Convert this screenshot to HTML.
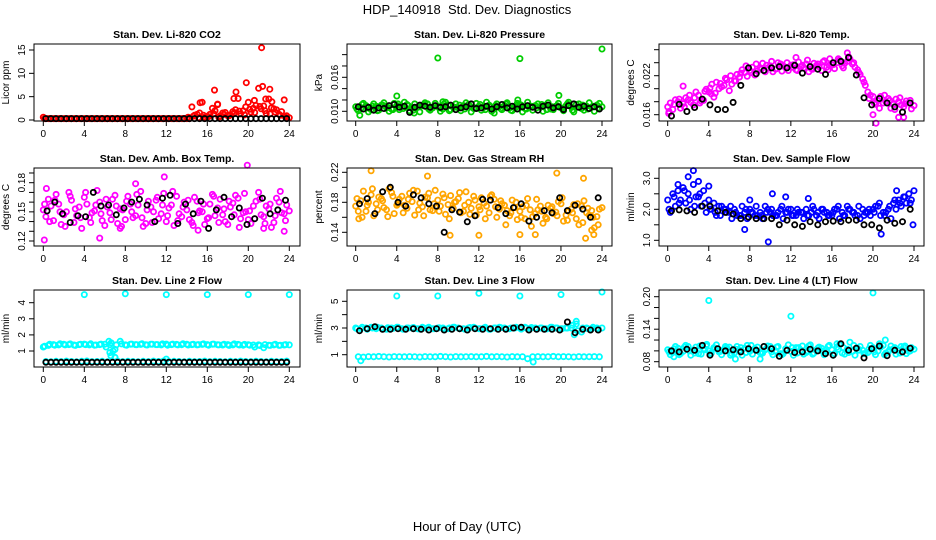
<!DOCTYPE html>
<html><head><meta charset="utf-8">
<style>
html,body{margin:0;padding:0;background:#fff;}
svg{display:block;font-family:"Liberation Sans",Arial,sans-serif;}
</style></head>
<body>
<svg id="chart" width="936" height="540" viewBox="0 0 936 540">
<text x="467" y="14" font-size="13" text-anchor="middle">HDP_140918&#160; Std. Dev. Diagnostics</text>
<text x="467" y="531" font-size="13" text-anchor="middle">Hour of Day (UTC)</text>
</svg>
<script>
// ---------- data ----------
const xTicks = [0,4,8,12,16,20,24];
const titles = ["Stan. Dev. Li-820 CO2","Stan. Dev. Li-820 Pressure","Stan. Dev. Li-820 Temp.","Stan. Dev. Amb. Box Temp.","Stan. Dev. Gas Stream RH","Stan. Dev. Sample Flow","Stan. Dev. Line 2 Flow","Stan. Dev. Line 3 Flow","Stan. Dev. Line 4 (LT) Flow"];
const yTitles = ["Licor ppm","kPa","degrees C","degrees C","percent","ml/min","ml/min","ml/min","ml/min"];

const co2A = [0.6,0.3,0.3,0.3,0.3,0.3,0.3,0.3,0.3,0.3,0.3,0.3,0.3,0.3,0.3,0.3,0.3,0.3,0.3,0.3,0.3,0.3,0.3,0.3,0.3,0.3,0.3,0.3,0.3,2.8,1.2,3.8,0.8,2.5,3.3,1.5,0.9,1.8,4.6,2.0,3.8,2.5,6.8,3.0,4.5,2.4,1.2,4.3,0.5];
const co2B = [0.3,0.3,0.3,0.3,0.3,0.3,0.3,0.3,0.3,0.3,0.3,0.3,0.3,0.3,0.3,0.3,0.3,0.3,0.3,0.3,0.3,0.3,0.3,0.3,0.3,0.3,0.3,0.3,0.3,1.0,1.5,0.6,1.2,2.0,0.9,1.6,1.1,2.2,1.3,2.8,1.7,3.1,2.4,1.4,2.6,2.2,1.8,0.9];
const co2C = [0.3,0.3,0.3,0.3,0.3,0.3,0.3,0.3,0.3,0.3,0.3,0.3,0.3,0.3,0.3,0.3,0.3,0.3,0.3,0.3,0.3,0.3,0.3,0.3,0.3,0.3,0.3,0.3,0.6,0.8,0.5,1.0,0.7,1.3,0.6,1.2,0.9,1.5,1.9,1.1,2.3,1.6,2.9,2.0,1.3,1.7,1.0,0.6];
const co2Out = [[21.3,15.5],[16.7,6.4],[18.8,6.0],[19.8,8.0],[21.4,7.2],[22.1,6.6],[20.6,4.2],[21.7,4.5],[22.3,3.9],[18.6,4.6],[15.3,3.7],[17.0,3.4]];
const co2K = [0.3,0.3,0.3,0.3,0.3,0.3,0.3,0.3,0.3,0.3,0.3,0.3,0.3,0.3,0.3,0.3,0.3,0.3,0.3,0.3,0.3,0.3,0.3,0.3,0.3,0.3,0.3,0.3,0.3,0.3,0.3,0.3,0.3,0.3,0.3,0.3,0.3,0.3,0.3,0.3,0.3,0.3,0.3,0.3,0.3,0.3,0.3,0.3];

const presA = [0.0108,0.0105,0.0110,0.0103,0.0109,0.0111,0.0106,0.0104,0.0110,0.0108,0.0112,0.0105,0.0107,0.0110,0.0113,0.0106,0.0109,0.0104,0.0111,0.0108,0.0106,0.0110,0.0112,0.0105,0.0109,0.0107,0.0111,0.0104,0.0108,0.0110,0.0106,0.0109,0.0112,0.0105,0.0108,0.0110,0.0107,0.0111,0.0104,0.0109,0.0106,0.0110,0.0108,0.0112,0.0105,0.0109,0.0107,0.0111,0.0108];
const presB = [0.0101,0.0114,0.0099,0.0113,0.0102,0.0115,0.0100,0.0114,0.0103,0.0116,0.0101,0.0113,0.0099,0.0115,0.0102,0.0114,0.0100,0.0116,0.0103,0.0113,0.0101,0.0115,0.0099,0.0114,0.0102,0.0116,0.0100,0.0113,0.0103,0.0115,0.0101,0.0114,0.0099,0.0116,0.0102,0.0113,0.0100,0.0115,0.0103,0.0114,0.0101,0.0116,0.0099,0.0113,0.0102,0.0115,0.0100,0.0114];
const presC = [0.0104,0.0112,0.0106,0.0109,0.0101,0.0111,0.0107,0.0103,0.0113,0.0105,0.0110,0.0102,0.0108,0.0112,0.0104,0.0109,0.0106,0.0113,0.0101,0.0107,0.0111,0.0104,0.0109,0.0106,0.0112,0.0103,0.0108,0.0110,0.0105,0.0113,0.0102,0.0107,0.0111,0.0104,0.0109,0.0106,0.0112,0.0103,0.0108,0.0110,0.0105,0.0113,0.0102,0.0107,0.0111,0.0104,0.0109,0.0106];
const presOut = [[8,0.0194],[16,0.0193],[24,0.0210],[4,0.0127],[19.8,0.0128],[15.8,0.0120],[5.7,0.0097],[0.4,0.0093],[13.5,0.0097],[8.5,0.0117]];
const presK = [0.0108,0.0104,0.0107,0.0102,0.0106,0.0105,0.0110,0.0112,0.0107,0.0109,0.0098,0.0107,0.0111,0.0109,0.0107,0.0110,0.0107,0.0108,0.0111,0.0103,0.0106,0.0108,0.0113,0.0105,0.0106,0.0109,0.0104,0.0108,0.0112,0.0106,0.0109,0.0104,0.0108,0.0110,0.0107,0.0102,0.0109,0.0111,0.0106,0.0108,0.0103,0.0110,0.0113,0.0107,0.0109,0.0105,0.0108,0.0104];

const tempA = [0.0172,0.0168,0.0180,0.0177,0.0183,0.0175,0.0190,0.0182,0.0195,0.0187,0.0200,0.0205,0.0197,0.0212,0.0218,0.0225,0.0228,0.0221,0.0232,0.0226,0.0235,0.0230,0.0238,0.0233,0.0236,0.0229,0.0234,0.0238,0.0231,0.0236,0.0228,0.0233,0.0237,0.0240,0.0235,0.0242,0.0238,0.0229,0.0215,0.0195,0.0188,0.0182,0.0178,0.0185,0.0176,0.0180,0.0172,0.0178,0.0174];
const tempB = [0.0178,0.0183,0.0170,0.0186,0.0179,0.0195,0.0181,0.0199,0.0192,0.0210,0.0203,0.0214,0.0207,0.0222,0.0229,0.0219,0.0233,0.0227,0.0239,0.0232,0.0226,0.0240,0.0235,0.0228,0.0237,0.0241,0.0232,0.0226,0.0239,0.0234,0.0243,0.0236,0.0231,0.0244,0.0239,0.0246,0.0233,0.0222,0.0205,0.0190,0.0176,0.0188,0.0180,0.0170,0.0184,0.0175,0.0181,0.0169];
const tempC = [0.0165,0.0176,0.0184,0.0172,0.0190,0.0186,0.0178,0.0196,0.0201,0.0193,0.0208,0.0216,0.0220,0.0212,0.0224,0.0235,0.0225,0.0238,0.0230,0.0236,0.0242,0.0231,0.0227,0.0240,0.0233,0.0228,0.0236,0.0244,0.0230,0.0238,0.0241,0.0229,0.0237,0.0246,0.0232,0.0249,0.0240,0.0225,0.0210,0.0185,0.0178,0.0170,0.0190,0.0182,0.0168,0.0186,0.0177,0.0182];
const tempOut = [[17.5,0.0255],[20.3,0.0147],[1.5,0.0204],[4.3,0.0207],[20,0.0160],[22.5,0.0156],[23,0.0156],[15.8,0.0246],[0.1,0.0162],[12.5,0.0248]];
const tempK = [0.0158,0.0176,0.0165,0.0171,0.0184,0.0175,0.0168,0.0168,0.0179,0.0205,0.0232,0.0223,0.0228,0.0232,0.0234,0.0232,0.0236,0.0224,0.0234,0.0230,0.0222,0.0240,0.0242,0.0248,0.0221,0.0186,0.0175,0.0185,0.0178,0.0172,0.0164,0.0178];

const ambA = [0.152,0.163,0.141,0.158,0.147,0.170,0.139,0.155,0.165,0.144,0.151,0.160,0.136,0.149,0.167,0.153,0.142,0.158,0.146,0.171,0.138,0.155,0.162,0.148,0.140,0.157,0.166,0.145,0.152,0.139,0.161,0.150,0.143,0.168,0.154,0.147,0.137,0.159,0.164,0.149,0.142,0.156,0.170,0.145,0.153,0.139,0.160,0.148,0.151];
const ambB = [0.145,0.156,0.168,0.137,0.150,0.162,0.146,0.133,0.158,0.149,0.172,0.141,0.155,0.163,0.138,0.152,0.166,0.144,0.157,0.135,0.161,0.150,0.143,0.169,0.154,0.136,0.148,0.160,0.142,0.165,0.151,0.137,0.158,0.146,0.163,0.140,0.155,0.167,0.143,0.150,0.138,0.161,0.147,0.156,0.134,0.164,0.149,0.157];
const ambC = [0.158,0.140,0.162,0.150,0.135,0.166,0.153,0.144,0.170,0.139,0.157,0.148,0.163,0.142,0.156,0.135,0.161,0.150,0.168,0.144,0.152,0.139,0.165,0.157,0.146,0.171,0.141,0.155,0.162,0.136,0.149,0.158,0.144,0.166,0.139,0.153,0.161,0.147,0.134,0.169,0.151,0.143,0.163,0.138,0.158,0.146,0.171,0.141];
const ambOut = [[0.1,0.121],[0.3,0.174],[11.8,0.186],[19.9,0.198],[15.1,0.131],[7.5,0.133],[9,0.179],[23.5,0.130],[5.5,0.123],[21.5,0.133]];
const ambK = [0.151,0.160,0.148,0.139,0.146,0.145,0.170,0.156,0.157,0.147,0.154,0.160,0.163,0.157,0.140,0.164,0.167,0.138,0.158,0.148,0.161,0.133,0.152,0.165,0.145,0.154,0.137,0.143,0.164,0.148,0.152,0.162];

const rhA = [0.175,0.182,0.168,0.190,0.178,0.185,0.170,0.193,0.176,0.188,0.172,0.181,0.195,0.174,0.186,0.169,0.183,0.191,0.177,0.172,0.185,0.168,0.180,0.188,0.174,0.179,0.166,0.184,0.171,0.176,0.162,0.173,0.168,0.158,0.170,0.165,0.175,0.160,0.172,0.167,0.178,0.163,0.171,0.158,0.175,0.166,0.169,0.161,0.173];
const rhB = [0.168,0.195,0.180,0.162,0.187,0.173,0.198,0.165,0.184,0.176,0.192,0.163,0.179,0.187,0.170,0.196,0.175,0.164,0.189,0.181,0.166,0.194,0.172,0.163,0.186,0.175,0.190,0.160,0.178,0.169,0.183,0.157,0.174,0.185,0.161,0.170,0.152,0.176,0.165,0.181,0.155,0.168,0.177,0.150,0.182,0.163,0.146,0.171];
const rhC = [0.185,0.160,0.176,0.198,0.170,0.182,0.161,0.188,0.178,0.166,0.184,0.196,0.170,0.162,0.192,0.178,0.168,0.186,0.158,0.180,0.193,0.176,0.164,0.183,0.170,0.158,0.188,0.174,0.182,0.150,0.166,0.180,0.160,0.176,0.148,0.184,0.168,0.158,0.174,0.162,0.186,0.156,0.166,0.178,0.153,0.172,0.160,0.150];
const rhOut = [[1.5,0.222],[7,0.215],[19.6,0.219],[22.2,0.212],[22.4,0.132],[23,0.143],[23.2,0.137],[9.2,0.136],[12,0.136],[16,0.137],[0.3,0.158],[17.5,0.137]];
const rhK = [0.178,0.185,0.165,0.194,0.200,0.180,0.175,0.190,0.186,0.178,0.175,0.140,0.170,0.167,0.154,0.162,0.184,0.183,0.173,0.165,0.173,0.178,0.155,0.160,0.169,0.166,0.186,0.169,0.176,0.171,0.160,0.186];

const flowA = [2.3,2.5,2.6,2.7,2.5,2.8,2.4,2.6,2.3,2.2,2.1,2.0,1.9,2.0,1.8,1.9,2.0,1.8,1.9,2.1,1.9,1.8,2.0,1.9,2.0,1.8,1.9,2.0,1.9,1.8,2.0,1.9,1.8,2.0,1.9,2.1,1.9,1.8,2.0,1.9,2.0,2.1,1.9,2.0,2.2,2.3,2.4,2.5,2.6];
const flowB = [1.9,2.1,2.3,2.2,2.0,2.4,2.1,1.9,2.0,1.8,2.1,1.9,1.7,1.8,2.1,1.7,1.9,1.8,1.7,2.0,1.8,1.9,1.7,2.0,1.8,1.9,1.7,1.8,2.0,1.7,1.9,1.8,2.0,1.7,1.8,2.0,1.8,1.7,1.9,1.8,2.1,1.8,1.9,1.7,2.0,2.1,2.2,2.3];
const flowC = [2.0,2.4,2.2,2.6,2.3,2.1,2.5,2.2,2.0,1.9,1.8,2.0,2.1,1.9,1.8,2.0,1.9,2.1,1.8,1.9,2.0,1.8,2.1,1.9,1.8,2.0,1.9,1.8,2.1,1.9,2.0,1.8,1.9,2.1,1.8,2.0,1.9,2.1,1.8,2.0,1.9,2.2,1.8,2.1,2.3,2.2,2.4,2.2];
const flowOut = [[2.5,3.25],[2.0,3.05],[3.0,2.9],[9.8,0.95],[11.5,2.4],[13.7,2.35],[10.2,2.5],[4,2.75],[20.8,1.2],[22.3,2.6],[23.9,1.5],[8,2.3],[1.0,2.8],[7.5,1.35]];
const flowK = [1.95,1.98,1.95,1.9,2.1,2.1,1.95,1.9,1.85,1.7,1.75,1.7,1.7,1.7,1.5,1.65,1.5,1.45,1.6,1.5,1.6,1.62,1.6,1.65,1.65,1.5,1.5,1.4,1.65,1.55,1.6,2.0];

const l2A = [1.25,1.35,1.4,1.38,1.42,1.4,1.37,1.4,1.43,1.38,1.36,1.4,1.42,1.39,1.1,1.6,1.38,1.42,1.4,1.41,1.39,1.42,1.4,1.38,1.43,1.4,1.41,1.39,1.42,1.4,1.38,1.41,1.4,1.42,1.39,1.37,1.4,1.38,1.41,1.36,1.39,1.37,1.38,1.2,1.36,1.38,1.35,1.37,1.38];
const l2B = [0.35,0.33,0.36,0.34,0.37,0.35,0.33,0.36,0.38,0.34,0.35,0.36,0.33,0.35,0.37,0.34,0.36,0.35,0.33,0.36,0.34,0.37,0.35,0.38,0.34,0.36,0.35,0.33,0.36,0.34,0.35,0.37,0.34,0.36,0.35,0.33,0.36,0.34,0.37,0.35,0.34,0.36,0.35,0.33,0.36,0.34,0.35,0.37];
const l2C = [1.3,1.42,1.36,1.45,1.38,1.44,1.35,1.42,1.40,1.45,1.37,1.43,1.25,1.5,1.38,1.44,1.36,1.43,1.39,1.45,1.37,1.42,1.40,1.44,1.36,1.43,1.38,1.45,1.37,1.42,1.40,1.44,1.36,1.43,1.38,1.42,1.35,1.44,1.37,1.41,1.36,1.25,1.34,1.40,1.35,1.42,1.36,1.40];
const l2Out = [[4,4.5],[8,4.55],[12,4.5],[16,4.5],[20,4.5],[24,4.5],[6.6,0.7],[6.5,0.9],[7,0.6],[6.8,1.0],[12,0.5],[6.4,1.6]];
const l2K = [0.3,0.3,0.3,0.3,0.3,0.3,0.3,0.3,0.3,0.3,0.3,0.3,0.3,0.3,0.3,0.3,0.3,0.3,0.3,0.3,0.3,0.3,0.3,0.3,0.3,0.3,0.3,0.3,0.3,0.3,0.3,0.3,0.3,0.3,0.3,0.3,0.3,0.3,0.3,0.3,0.3,0.3,0.3,0.3,0.3,0.3,0.3,0.3];

const l3A = [3.0,2.95,3.0,3.05,2.95,3.0,2.9,3.0,3.05,2.95,3.0,3.0,2.95,3.05,3.0,2.95,3.0,3.0,2.95,3.05,3.0,2.95,3.0,3.05,2.95,3.0,2.9,3.0,3.05,3.0,2.95,3.0,3.0,3.05,2.95,3.0,3.0,2.95,3.05,3.0,2.95,3.0,3.0,3.3,2.7,3.0,2.95,3.0,3.0];
const l3B = [0.85,0.82,0.86,0.84,0.87,0.85,0.83,0.86,0.85,0.84,0.86,0.85,0.83,0.86,0.85,0.84,0.87,0.85,0.83,0.86,0.84,0.85,0.86,0.84,0.85,0.87,0.84,0.86,0.85,0.83,0.86,0.84,0.85,0.7,0.85,0.86,0.84,0.85,0.87,0.84,0.86,0.85,0.83,0.86,0.84,0.85,0.86,0.84];
const l3C = [2.95,3.05,2.9,3.0,3.05,2.92,3.02,2.97,3.05,2.9,3.0,3.04,2.93,3.0,3.05,2.95,3.02,2.9,3.0,3.05,2.95,2.92,3.04,3.0,2.95,3.05,2.9,3.0,3.03,2.95,3.0,3.05,2.92,3.0,3.04,2.95,3.0,2.93,3.05,3.0,2.95,3.0,3.2,2.8,3.0,2.95,3.05,2.95];
const l3Out = [[4,5.4],[8,5.4],[12,5.6],[16,5.4],[20,5.5],[24,5.7],[0.5,0.55],[17.3,0.45],[21.5,3.5],[21.3,2.5]];
const l3K = [2.8,2.95,3.1,2.9,2.9,2.95,2.9,2.95,2.9,2.85,2.95,2.85,2.9,2.95,2.85,2.95,2.9,2.95,2.9,2.9,3.0,3.05,2.85,2.9,2.9,2.9,2.85,3.45,2.65,2.9,2.85,2.85];

const l4A = [0.102,0.097,0.105,0.099,0.108,0.101,0.095,0.104,0.100,0.106,0.098,0.103,0.107,0.096,0.101,0.105,0.099,0.104,0.097,0.102,0.108,0.100,0.095,0.104,0.099,0.106,0.101,0.097,0.103,0.100,0.105,0.098,0.102,0.107,0.096,0.103,0.099,0.105,0.101,0.097,0.106,0.100,0.110,0.098,0.104,0.101,0.107,0.099,0.103];
const l4B = [0.093,0.108,0.095,0.110,0.092,0.107,0.094,0.109,0.096,0.111,0.093,0.106,0.095,0.108,0.092,0.110,0.094,0.107,0.096,0.109,0.093,0.108,0.095,0.111,0.092,0.106,0.094,0.109,0.096,0.107,0.093,0.110,0.095,0.112,0.094,0.116,0.092,0.108,0.095,0.110,0.093,0.107,0.096,0.109,0.094,0.108,0.095,0.106];
const l4C = [0.098,0.104,0.093,0.107,0.100,0.096,0.109,0.102,0.094,0.105,0.099,0.108,0.092,0.103,0.106,0.097,0.110,0.101,0.095,0.104,0.098,0.107,0.093,0.102,0.106,0.096,0.109,0.100,0.094,0.105,0.099,0.108,0.092,0.103,0.106,0.097,0.110,0.101,0.095,0.104,0.098,0.113,0.093,0.102,0.106,0.096,0.109,0.100];
const l4Out = [[4,0.193],[20,0.207],[12,0.164],[21.2,0.120],[3.8,0.112],[13.9,0.111],[0.6,0.089],[6.6,0.085],[16.5,0.113],[9,0.085]];
const l4K = [0.100,0.098,0.103,0.101,0.110,0.092,0.104,0.100,0.102,0.098,0.104,0.101,0.108,0.104,0.090,0.101,0.097,0.098,0.103,0.100,0.095,0.092,0.113,0.101,0.105,0.087,0.104,0.109,0.091,0.101,0.098,0.105];

const yTickVals = [[0,5,10,15],[0.010,0.012,0.014,0.016,0.018,0.020],[0.016,0.018,0.020,0.022,0.024,0.026],[0.12,0.13,0.14,0.15,0.16,0.17,0.18,0.19],[0.14,0.16,0.18,0.20,0.22],[1.0,1.5,2.0,2.5,3.0],[1,2,3,4],[1,2,3,4,5],[0.08,0.10,0.12,0.14,0.16,0.18,0.20]];
const yTickLabels = [["0","5","10","15"],["0.010","","","0.016","",""],["0.016","","","0.022","",""],["0.12","","","0.15","","","0.18",""],["0.14","","0.18","","0.22"],["1.0","","2.0","","3.0"],["1","2","3","4"],["1","","3","","5"],["0.08","","","0.14","","","0.20"]];

// ---------- layout (pixel calibration, not data) ----------
const cols = [{l:34,r:300,x0:43.3,x24:289.3},{l:347,r:612,x0:355.7,x24:602},{l:659,r:924,x0:667.7,x24:914}];
const rows = [{t:44,b:121},{t:168,b:246},{t:290,b:367}];
const yCal = [[0,120,15,50],[0.010,111.3,0.016,77.3],[0.016,114.7,0.022,75.7],[0.12,241,0.18,182.7],[0.14,232.3,0.22,172.3],[1.0,240.3,3.0,178.3],[1,351,4,302.7],[1,354.7,5,301.3],[0.08,361.7,0.20,296.7]];
const series = [
 {a:co2A,b:co2B,cc:co2C,o:co2Out,k:co2K,c:"#ff0000"},
 {a:presA,b:presB,cc:presC,o:presOut,k:presK,c:"#00cd00"},
 {a:tempA,b:tempB,cc:tempC,o:tempOut,k:tempK,c:"#ff00ff"},
 {a:ambA,b:ambB,cc:ambC,o:ambOut,k:ambK,c:"#ff00ff"},
 {a:rhA,b:rhB,cc:rhC,o:rhOut,k:rhK,c:"#ffa500"},
 {a:flowA,b:flowB,cc:flowC,o:flowOut,k:flowK,c:"#0000ff"},
 {a:l2A,b:l2B,cc:l2C,o:l2Out,k:l2K,c:"#00ffff"},
 {a:l3A,b:l3B,cc:l3C,o:l3Out,k:l3K,c:"#00ffff"},
 {a:l4A,b:l4B,cc:l4C,o:l4Out,k:l4K,c:"#00ffff"}
];

const NS = "http://www.w3.org/2000/svg";
const svg = document.getElementById("chart");
function mk(tag, attrs, parent){
  const e = document.createElementNS(NS, tag);
  for (const k in attrs) e.setAttribute(k, attrs[k]);
  (parent||svg).appendChild(e);
  return e;
}
function pt(g, x, y, color, nm){
  const c = mk("circle", {cx:x.toFixed(1), cy:y.toFixed(1), r:2.6, fill:"none", stroke:color, "stroke-width":1.8}, g);
  
  
}

for (let p = 0; p < 9; p++){
  const col = cols[p%3], row = rows[Math.floor(p/3)];
  const xs = h => col.x0 + (col.x24 - col.x0) * h / 24;
  const cal = yCal[p];
  const ys = v => cal[1] + (v - cal[0]) * (cal[3] - cal[1]) / (cal[2] - cal[0]);
  const g = mk("g", {});
  
  

  const t = mk("text", {x:(col.l+col.r)/2, y:row.t-6, "font-size":10.5, "font-weight":"bold", "text-anchor":"middle"}, g);
  t.textContent = titles[p];
  
  

  const yl = mk("text", {transform:`translate(${col.l-25},${(row.t+row.b)/2}) rotate(-90)`, "font-size":10, "text-anchor":"middle"}, g);
  yl.textContent = yTitles[p];
  
  

  const s = series[p];
  const pg = mk("g", {}, g);
  
  
  const dx = 24/(s.a.length-1);
  s.a.forEach((v,i) => pt(pg, xs(i*dx), ys(v), s.c, 'point'));
  s.b.forEach((v,i) => pt(pg, xs(0.25 + i*dx), ys(v), s.c, 'point'));
  s.cc.forEach((v,i) => pt(pg, xs(0.125 + i*dx), ys(v), s.c, 'point'));
  s.o.forEach(d => pt(pg, xs(d[0]), ys(d[1]), s.c, 'outlier-point'));
  const step = 24/s.k.length;
  s.k.forEach((v,i) => pt(pg, xs(step/2 + i*step), ys(v), "#000", 'hourly-point'));

  const box = mk("rect", {x:col.l, y:row.t, width:col.r-col.l, height:row.b-row.t, fill:"none", stroke:"#000", "stroke-width":1}, g);
  
  

  xTicks.forEach(h => {
    const x = xs(h);
    const tk = mk("line", {x1:x, x2:x, y1:row.b, y2:row.b+5, stroke:"#000"}, g);
    
    
    const lb = mk("text", {x:x, y:row.b+16, "font-size":10, "text-anchor":"middle"}, g);
    lb.textContent = h;
    
    
  });
  yTickVals[p].forEach((v,i) => {
    const y = ys(v);
    const tk = mk("line", {x1:col.l-5, x2:col.l, y1:y, y2:y, stroke:"#000"}, g);
    
    
    if (yTickLabels[p][i]){
      const lb = mk("text", {transform:`translate(${col.l-9},${y}) rotate(-90)`, "font-size":10, "text-anchor":"middle"}, g);
      lb.textContent = yTickLabels[p][i];
      
      
    }
  });
}
</script>
</body></html>
